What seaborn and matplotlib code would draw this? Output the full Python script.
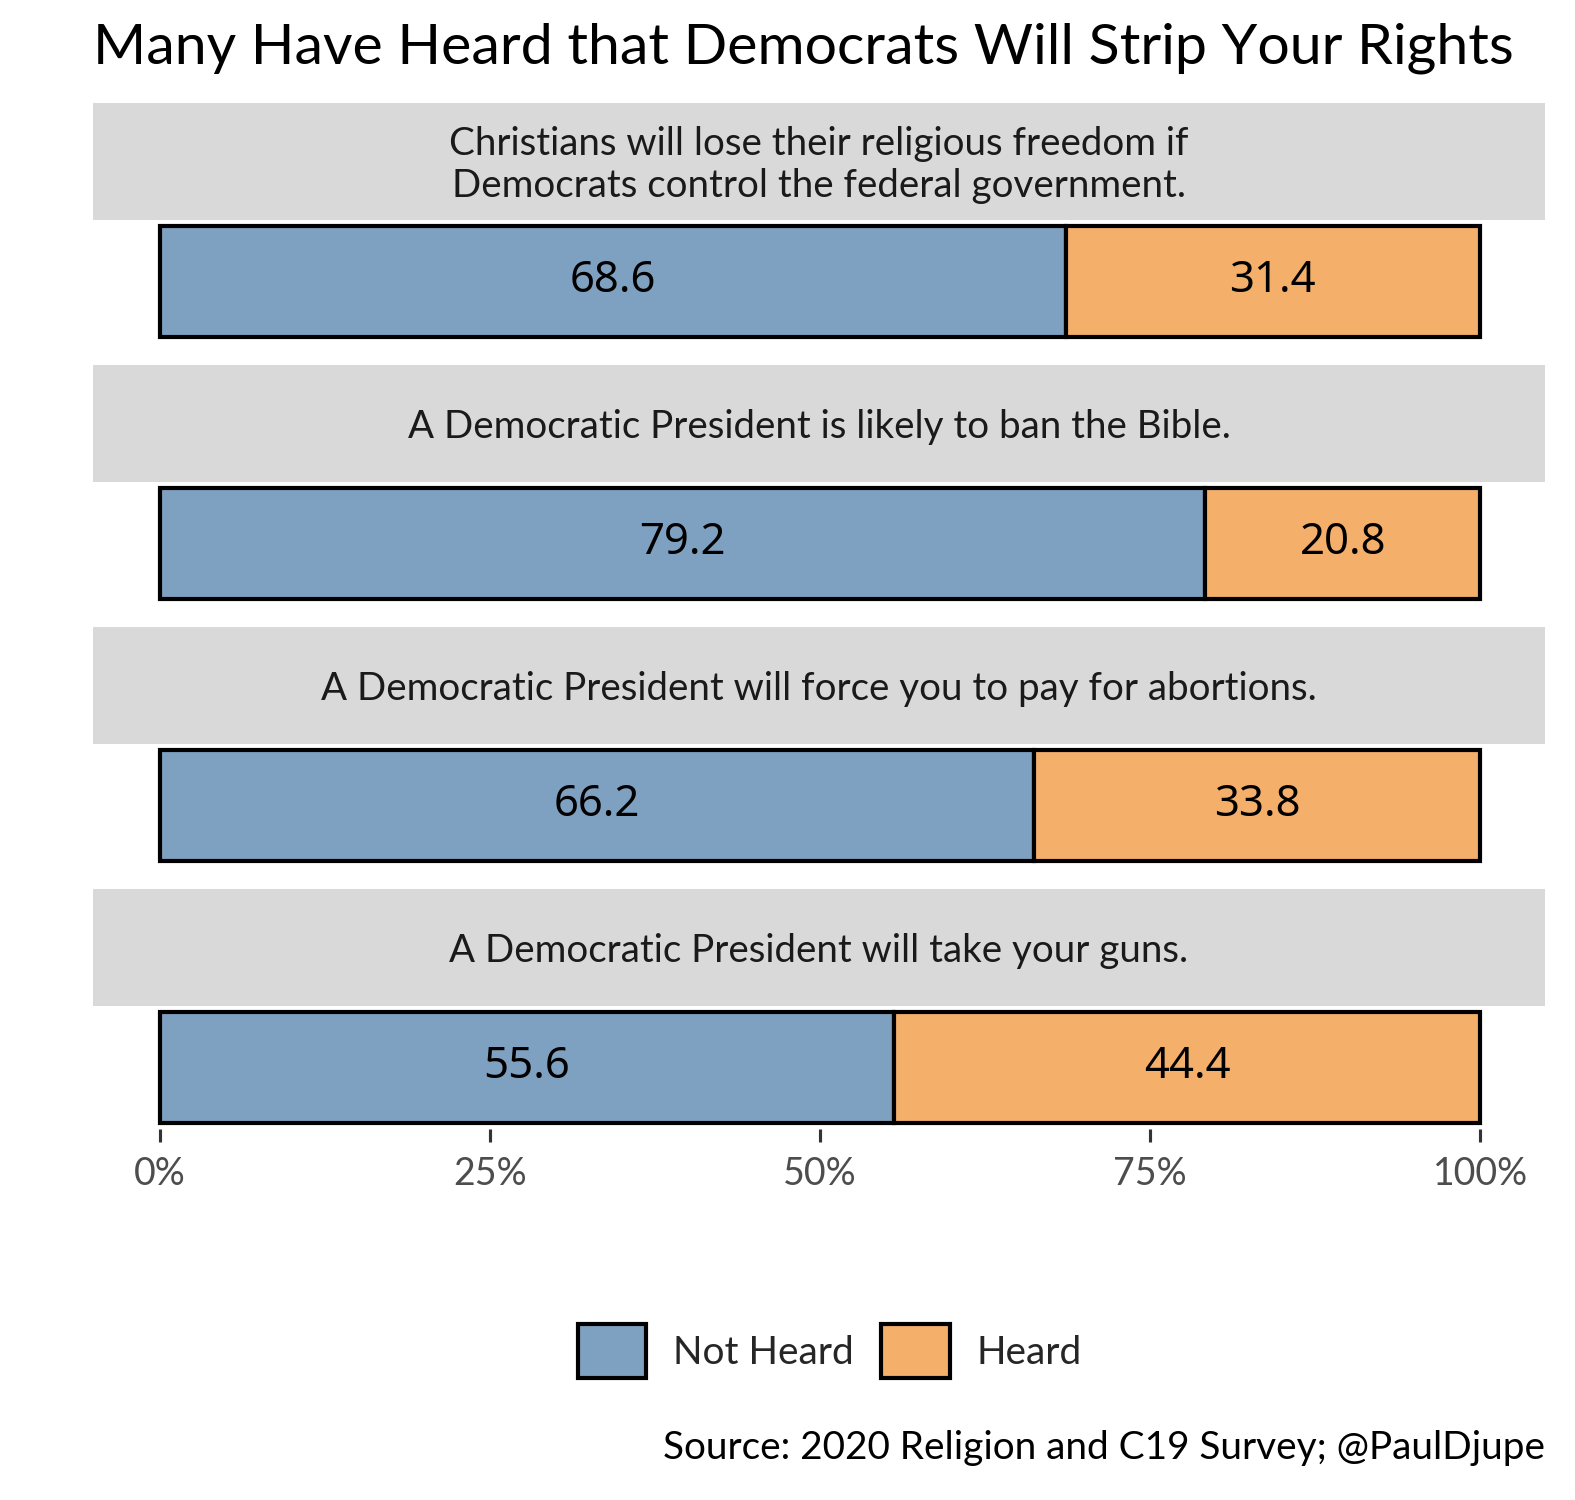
import matplotlib
matplotlib.use("Agg")
import matplotlib.pyplot as plt
from matplotlib.patches import Patch
import seaborn as sns
import pandas as pd

questions = [
    "Christians will lose their religious freedom if\nDemocrats control the federal government.",
    "A Democratic President is likely to ban the Bible.",
    "A Democratic President will force you to pay for abortions.",
    "A Democratic President will take your guns.",
]
not_heard = [68.6, 79.2, 66.2, 55.6]
heard = [31.4, 20.8, 33.8, 44.4]
legend_labels = ["Not Heard", "Heard"]
ticks = [0, 25, 50, 75, 100]
tick_labels = ["0%", "25%", "50%", "75%", "100%"]

blue = "#7FA1C1"
orange = "#F4AF6B"
strip_gray = "#D9D9D9"

sns.set_theme(style="white")
plt.rcParams["font.family"] = ["Lato", "DejaVu Sans"]

W, H = 1575, 1500
fig = plt.figure(figsize=(W / 150, H / 150), dpi=150)


def px_axes(x0, y0, x1, y1):
    # pixel box (top-left origin) -> figure axes
    return fig.add_axes([x0 / W, 1 - y1 / H, (x1 - x0) / W, (y1 - y0) / H])


strip_tops = [103, 365, 627, 889]
df = pd.DataFrame({"q": questions, "nh": not_heard, "h": heard})

for i, row in df.iterrows():
    top = strip_tops[i]
    sax = px_axes(93, top, 1545, top + 117)
    sax.set_facecolor(strip_gray)
    sax.set_xticks([])
    sax.set_yticks([])
    for s in sax.spines.values():
        s.set_visible(False)
    sax.text(0.5, 0.47, row["q"], ha="center", va="center", fontsize=18.5,
             color="#1A1A1A", linespacing=1.22, transform=sax.transAxes)

    ax = px_axes(93, top + 117, 1545, top + 240)
    sns.barplot(x=[row["nh"]], y=[row["q"]], orient="h", color=blue, saturation=1,
                edgecolor="black", linewidth=2, width=0.9, ax=ax)
    ax.barh([0], [row["h"]], left=[row["nh"]], height=0.9, color=orange,
            edgecolor="black", linewidth=2)
    for c in ax.containers:
        ax.bar_label(c, fmt="%.1f", label_type="center", fontsize=21,
                     family="Noto Sans", color="black")
    ax.set_xlim(-5.08, 104.92)
    ax.set_ylim(0.5, -0.5)
    ax.set_ylabel("")
    ax.set_xlabel("")
    ax.set_yticks([])
    for s in ax.spines.values():
        s.set_visible(False)
    if i == len(df) - 1:
        ax.set_xticks(ticks)
        ax.set_xticklabels(tick_labels)
        ax.tick_params(axis="x", bottom=True, length=6, width=1.5,
                       color="#333333", labelsize=18, labelcolor="#4D4D4D", pad=7)
    else:
        ax.set_xticks([])

fig.text(93 / W, 1 - 48 / H, "Many Have Heard that Democrats Will Strip Your Rights",
         ha="left", va="center", fontsize=27.5, color="black")

handles = [Patch(facecolor=blue, edgecolor="black", linewidth=2),
           Patch(facecolor=orange, edgecolor="black", linewidth=2)]
fig.legend(handles, legend_labels, loc="center", ncol=2, frameon=False,
           bbox_to_anchor=(830 / W, 1 - 1351 / H), fontsize=18.7,
           handlelength=1.75, handleheight=1.75, handletextpad=0.7, columnspacing=0.7)

fig.text(1545 / W, 1 - 1448 / H, "Source: 2020 Religion and C19 Survey; @PaulDjupe",
         ha="right", va="center", fontsize=18.6, color="black")

fig.savefig("out.png", dpi=150)
